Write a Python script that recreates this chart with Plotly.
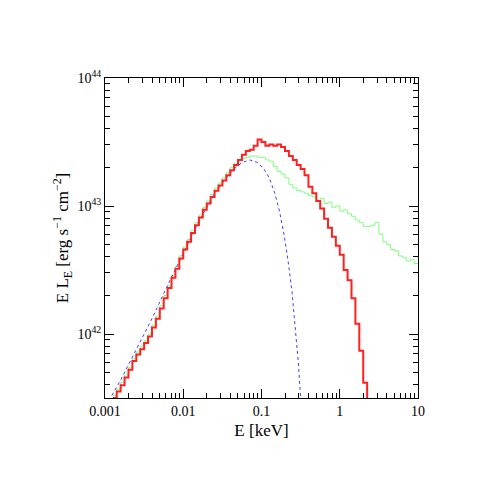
import numpy as np
import plotly.graph_objects as go

# bin left edges in log10(E/keV), step 0.05 dex
red_log_e0 = -2.90
red_logL = [41.50, 41.55, 41.60, 41.66, 41.72, 41.79, 41.84, 41.88, 41.93, 41.98,
            42.05, 42.12, 42.20, 42.28, 42.36, 42.44, 42.51, 42.59, 42.66, 42.72,
            42.79, 42.85, 42.91, 42.97, 43.02, 43.07, 43.12, 43.16, 43.20, 43.24,
            43.28, 43.32, 43.36, 43.40, 43.43, 43.44, 43.47, 43.52, 43.50, 43.47,
            43.48, 43.47, 43.48, 43.46, 43.43, 43.39, 43.36, 43.32, 43.29, 43.24,
            43.15, 43.10, 43.04, 42.98, 42.90, 42.83, 42.76, 42.69, 42.62, 42.50,
            42.42, 42.28, 42.08, 41.87, 41.62, 41.00]
green_logL = [41.52, 41.57, 41.62, 41.68, 41.74, 41.81, 41.86, 41.90, 41.95, 42.00,
              42.07, 42.14, 42.22, 42.30, 42.38, 42.46, 42.53, 42.61, 42.68, 42.74,
              42.81, 42.87, 42.93, 42.99, 43.04, 43.09, 43.14, 43.18, 43.22, 43.26,
              43.30, 43.33, 43.36, 43.37, 43.38, 43.39, 43.39, 43.38, 43.38, 43.36,
              43.35, 43.31, 43.27, 43.25, 43.22, 43.17, 43.14, 43.12, 43.11, 43.10,
              43.08, 43.07, 43.04, 43.06, 43.02, 43.03, 42.99, 43.00, 42.96, 42.97,
              42.94, 42.92, 42.89, 42.87, 42.84, 42.84, 42.85, 42.87, 42.78, 42.72,
              42.70, 42.66, 42.65, 42.61, 42.60, 42.57, 42.58, 42.55, 42.55]
# blackbody-like model (dotted)
blue_logE = [-2.95, -2.80, -2.60, -2.40, -2.20, -2.00, -1.80, -1.60, -1.45, -1.35,
             -1.25, -1.15, -1.05, -0.97, -0.90, -0.83, -0.77, -0.71, -0.66, -0.61,
             -0.57, -0.53, -0.50]
blue_logL = [41.48, 41.64, 41.88, 42.12, 42.38, 42.63, 42.88, 43.10, 43.22, 43.29,
             43.34, 43.36, 43.34, 43.29, 43.22, 43.10, 42.96, 42.77, 42.57, 42.33,
             42.08, 41.78, 41.50]

decades = [0.001, 0.01, 0.1, 1, 10]
x_minor = [m * d for d in decades[:-1] for m in range(1, 10)] + [10]
x_text = [("%g" % v) if v in decades else "" for v in x_minor]
y_minor = [m * 10.0 ** k for k in (41, 42, 43) for m in range(1, 10)] + [1e44]
y_text = [("10<sup>%d</sup>" % round(np.log10(v))) if v in (1e42, 1e43, 1e44) else ""
          for v in y_minor]


def steps(logL):
    edges = red_log_e0 + 0.05 * np.arange(len(logL) + 1)
    x = 10 ** edges
    y = 10 ** np.append(logL, logL[-1])
    return x, y


fig = go.Figure()
gx, gy = steps(green_logL)
fig.add_trace(go.Scatter(x=gx, y=gy, mode="lines", line_shape="hv",
                         line=dict(color="#80ff80", width=1)))
fig.add_trace(go.Scatter(x=10 ** np.array(blue_logE), y=10 ** np.array(blue_logL),
                         mode="lines", line=dict(color="#4040ff", width=1, dash="dot")))
rx, ry = steps(red_logL)
fig.add_trace(go.Scatter(x=rx, y=ry, mode="lines", line_shape="hv",
                         line=dict(color="#ff2020", width=2)))
# invisible trace on the overlay axes that carry the long decade ticks
fig.add_trace(go.Scatter(x=[1], y=[1e43], mode="none", xaxis="x2", yaxis="y2",
                         hoverinfo="skip"))

base = dict(showline=True, linecolor="black", linewidth=1, mirror="allticks",
            ticks="inside", tickcolor="black", showgrid=False, zeroline=False)
fig.update_layout(
    width=480, height=480, showlegend=False,
    plot_bgcolor="white", paper_bgcolor="white",
    margin=dict(l=97, r=70, t=70, b=90),
    font=dict(family="Liberation Serif", size=14, color="black"),
    xaxis=dict(base, type="log", range=[-3, 1], ticklen=5,
               tickvals=x_minor, ticktext=x_text,
               title=dict(text="E [keV]", standoff=6)),
    yaxis=dict(base, type="log", range=[41.5, 44], ticklen=5,
               tickvals=y_minor, ticktext=y_text,
               title=dict(text="E L<sub>E</sub> [erg s<sup>−1</sup> cm<sup>−2</sup>]",
                          standoff=4)),
    xaxis2=dict(base, type="log", range=[-3, 1], ticklen=9, overlaying="x",
                tickvals=decades, showticklabels=False),
    yaxis2=dict(base, type="log", range=[41.5, 44], ticklen=9, overlaying="y",
                tickvals=[1e42, 1e43, 1e44], showticklabels=False),
)
fig.write_html("out.html")
